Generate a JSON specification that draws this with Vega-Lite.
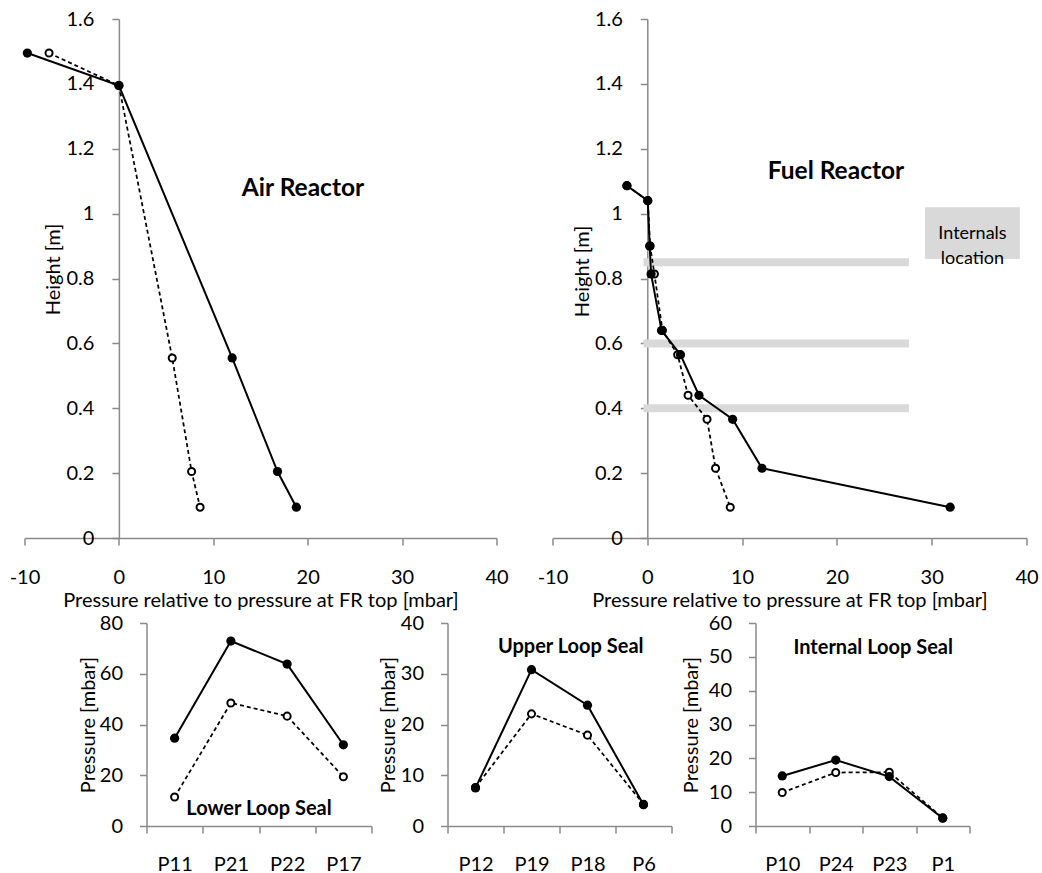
{
  "$schema": "https://vega.github.io/schema/vega-lite/v6.json",
  "padding": {"left": 8.5, "top": 9, "right": 0, "bottom": 0},
  "autosize": {"type": "pad"},
  "width": 1002,
  "height": 807,
  "config": {
    "font": "Lato",
    "view": {"stroke": null},
    "axis": {
      "grid": false,
      "domainColor": "#8a8a8a",
      "tickColor": "#8a8a8a",
      "domainWidth": 1.5,
      "tickWidth": 1.5,
      "tickSize": 7,
      "labelColor": "black",
      "titleColor": "black",
      "labelFont": "Lato",
      "titleFont": "Lato",
      "labelFontSize": 20,
      "titleFontSize": 20,
      "titleFontWeight": "normal",
      "labelFlush": false,
      "labelBound": false,
      "labelOverlap": false
    },
    "text": {"font": "Lato"}
  },
  "datasets": {
    "reactor": [
      {"panel": "Air Reactor", "series": "Case 1", "pressure": -9.7, "height": 1.495},
      {"panel": "Air Reactor", "series": "Case 1", "pressure": 0, "height": 1.395},
      {"panel": "Air Reactor", "series": "Case 1", "pressure": 12.0, "height": 0.555},
      {"panel": "Air Reactor", "series": "Case 1", "pressure": 16.8, "height": 0.205},
      {"panel": "Air Reactor", "series": "Case 1", "pressure": 18.8, "height": 0.095},
      {"panel": "Air Reactor", "series": "Case 2", "pressure": -7.4, "height": 1.495},
      {"panel": "Air Reactor", "series": "Case 2", "pressure": 0, "height": 1.395},
      {"panel": "Air Reactor", "series": "Case 2", "pressure": 5.65, "height": 0.555},
      {"panel": "Air Reactor", "series": "Case 2", "pressure": 7.7, "height": 0.205},
      {"panel": "Air Reactor", "series": "Case 2", "pressure": 8.6, "height": 0.095},
      {"panel": "Fuel Reactor", "series": "Case 1", "pressure": -2.15, "height": 1.086},
      {"panel": "Fuel Reactor", "series": "Case 1", "pressure": 0.05, "height": 1.04},
      {"panel": "Fuel Reactor", "series": "Case 1", "pressure": 0.25, "height": 0.9},
      {"panel": "Fuel Reactor", "series": "Case 1", "pressure": 0.4, "height": 0.814},
      {"panel": "Fuel Reactor", "series": "Case 1", "pressure": 1.5, "height": 0.64},
      {"panel": "Fuel Reactor", "series": "Case 1", "pressure": 3.5, "height": 0.565},
      {"panel": "Fuel Reactor", "series": "Case 1", "pressure": 5.45, "height": 0.44},
      {"panel": "Fuel Reactor", "series": "Case 1", "pressure": 9.0, "height": 0.366},
      {"panel": "Fuel Reactor", "series": "Case 1", "pressure": 12.1, "height": 0.215},
      {"panel": "Fuel Reactor", "series": "Case 1", "pressure": 31.95, "height": 0.095},
      {"panel": "Fuel Reactor", "series": "Case 2", "pressure": -2.15, "height": 1.086},
      {"panel": "Fuel Reactor", "series": "Case 2", "pressure": 0.05, "height": 1.04},
      {"panel": "Fuel Reactor", "series": "Case 2", "pressure": 0.3, "height": 0.9},
      {"panel": "Fuel Reactor", "series": "Case 2", "pressure": 0.75, "height": 0.814},
      {"panel": "Fuel Reactor", "series": "Case 2", "pressure": 1.6, "height": 0.64},
      {"panel": "Fuel Reactor", "series": "Case 2", "pressure": 3.2, "height": 0.565},
      {"panel": "Fuel Reactor", "series": "Case 2", "pressure": 4.3, "height": 0.44},
      {"panel": "Fuel Reactor", "series": "Case 2", "pressure": 6.3, "height": 0.366},
      {"panel": "Fuel Reactor", "series": "Case 2", "pressure": 7.2, "height": 0.215},
      {"panel": "Fuel Reactor", "series": "Case 2", "pressure": 8.75, "height": 0.095}
    ],
    "loopseal": [
      {"panel": "Lower Loop Seal", "series": "Case 1", "probe": "P11", "pressure": 34.6},
      {"panel": "Lower Loop Seal", "series": "Case 1", "probe": "P21", "pressure": 72.9},
      {"panel": "Lower Loop Seal", "series": "Case 1", "probe": "P22", "pressure": 63.8},
      {"panel": "Lower Loop Seal", "series": "Case 1", "probe": "P17", "pressure": 32.0},
      {"panel": "Lower Loop Seal", "series": "Case 2", "probe": "P11", "pressure": 11.4},
      {"panel": "Lower Loop Seal", "series": "Case 2", "probe": "P21", "pressure": 48.5},
      {"panel": "Lower Loop Seal", "series": "Case 2", "probe": "P22", "pressure": 43.3},
      {"panel": "Lower Loop Seal", "series": "Case 2", "probe": "P17", "pressure": 19.4},
      {"panel": "Upper Loop Seal", "series": "Case 1", "probe": "P12", "pressure": 7.5},
      {"panel": "Upper Loop Seal", "series": "Case 1", "probe": "P19", "pressure": 30.8},
      {"panel": "Upper Loop Seal", "series": "Case 1", "probe": "P18", "pressure": 23.8},
      {"panel": "Upper Loop Seal", "series": "Case 1", "probe": "P6", "pressure": 4.2},
      {"panel": "Upper Loop Seal", "series": "Case 2", "probe": "P12", "pressure": 7.6},
      {"panel": "Upper Loop Seal", "series": "Case 2", "probe": "P19", "pressure": 22.1},
      {"panel": "Upper Loop Seal", "series": "Case 2", "probe": "P18", "pressure": 17.9},
      {"panel": "Upper Loop Seal", "series": "Case 2", "probe": "P6", "pressure": 4.3},
      {"panel": "Internal Loop Seal", "series": "Case 1", "probe": "P10", "pressure": 14.8},
      {"panel": "Internal Loop Seal", "series": "Case 1", "probe": "P24", "pressure": 19.5},
      {"panel": "Internal Loop Seal", "series": "Case 1", "probe": "P23", "pressure": 14.6},
      {"panel": "Internal Loop Seal", "series": "Case 1", "probe": "P1", "pressure": 2.3},
      {"panel": "Internal Loop Seal", "series": "Case 2", "probe": "P10", "pressure": 9.9},
      {"panel": "Internal Loop Seal", "series": "Case 2", "probe": "P24", "pressure": 15.8},
      {"panel": "Internal Loop Seal", "series": "Case 2", "probe": "P23", "pressure": 15.9},
      {"panel": "Internal Loop Seal", "series": "Case 2", "probe": "P1", "pressure": 2.4}
    ],
    "reactorTitles": [
      {"panel": "Air Reactor", "label": "Air Reactor", "pressure": 19.5, "height": 1.075},
      {"panel": "Fuel Reactor", "label": "Fuel Reactor", "pressure": 19.9, "height": 1.128}
    ],
    "sealTitles": [
      {"panel": "Lower Loop Seal", "label": "Lower Loop Seal", "probe": "P22", "pressure": 6.7},
      {"panel": "Upper Loop Seal", "label": "Upper Loop Seal", "probe": "P18", "pressure": 35.2},
      {"panel": "Internal Loop Seal", "label": "Internal Loop Seal", "probe": "P23", "pressure": 52.6}
    ],
    "internals": [
      {"pressure": -0.4, "pressure_end": 27.6, "height": 0.85},
      {"pressure": -0.4, "pressure_end": 27.6, "height": 0.6},
      {"pressure": -0.4, "pressure_end": 27.6, "height": 0.4}
    ],
    "internalsKey": [
      {"label": "Internals\nlocation", "pressure": 29.3, "pressure_end": 39.3, "height": 0.86, "height_end": 1.02, "label_pressure": 34.3, "label_height": 0.936}
    ]
  },
  "resolve": {
    "scale": {"x": "independent", "y": "independent"},
    "axis": {"x": "independent", "y": "independent"}
  },
  "layer": [
    {
      "encoding": {
        "x": {"field": "pressure", "type": "quantitative", "scale": {"domain": [-10, 40], "range": [0, 472], "nice": false, "zero": false},
              "axis": {"orient": "bottom", "offset": -288, "values": [-10, 0, 10, 20, 30, 40], "labelExpr": "'' + datum.value", "title": "Pressure relative to pressure at FR top [mbar]", "labelPadding": 22, "titlePadding": 3}},
        "y": {"field": "height", "type": "quantitative", "scale": {"domain": [0, 1.6], "range": [519, 0], "nice": false, "zero": false},
              "axis": {"orient": "left", "offset": -94.4, "values": [0, 0.2, 0.4, 0.6, 0.8, 1, 1.2, 1.4, 1.6], "labelExpr": "'' + datum.value", "title": "Height [m]", "labelPadding": 18, "titlePadding": 2, "titleY": 250}}
      },
      "layer": [
        {"data": {"name": "reactor"}, "transform": [{"filter": "datum.panel === 'Air Reactor' && datum.series === 'Case 2'"}],
         "mark": {"type": "line", "color": "black", "strokeWidth": 1.75, "strokeDash": [4, 3]}, "encoding": {"order": {"value": null}}},
        {"data": {"name": "reactor"}, "transform": [{"filter": "datum.panel === 'Air Reactor' && datum.series === 'Case 2'"}],
         "mark": {"type": "point", "shape": "circle", "filled": false, "fill": "white", "fillOpacity": 1, "stroke": "black", "strokeWidth": 2, "size": 50, "opacity": 1}},
        {"data": {"name": "reactor"}, "transform": [{"filter": "datum.panel === 'Air Reactor' && datum.series === 'Case 1'"}],
         "mark": {"type": "line", "color": "black", "strokeWidth": 2}, "encoding": {"order": {"value": null}}},
        {"data": {"name": "reactor"}, "transform": [{"filter": "datum.panel === 'Air Reactor' && datum.series === 'Case 1'"}],
         "mark": {"type": "circle", "color": "black", "size": 85, "opacity": 1}},
        {"data": {"name": "reactorTitles"}, "transform": [{"filter": "datum.panel === 'Air Reactor'"}],
         "mark": {"type": "text", "fontSize": 24.5, "fontWeight": "bold", "align": "center", "baseline": "middle", "color": "black"},
         "encoding": {"text": {"field": "label"}}}
      ]
    },
    {
      "encoding": {
        "x": {"field": "pressure", "type": "quantitative", "scale": {"domain": [-10, 40], "range": [528, 1002], "nice": false, "zero": false},
              "axis": {"orient": "bottom", "offset": -288, "values": [-10, 0, 10, 20, 30, 40], "labelExpr": "'' + datum.value", "title": "Pressure relative to pressure at FR top [mbar]", "labelPadding": 22, "titlePadding": 3}},
        "y": {"field": "height", "type": "quantitative", "scale": {"domain": [0, 1.6], "range": [519, 0], "nice": false, "zero": false},
              "axis": {"orient": "left", "offset": -622.8, "values": [0, 0.2, 0.4, 0.6, 0.8, 1, 1.2, 1.4, 1.6], "labelExpr": "'' + datum.value", "title": "Height [m]", "labelPadding": 18, "titlePadding": 2, "titleY": 252}}
      },
      "layer": [
        {"data": {"name": "internals"}, "mark": {"type": "rule", "color": "#d9d9d9", "strokeWidth": 8},
         "encoding": {"x2": {"field": "pressure_end"}}},
        {"data": {"name": "internalsKey"}, "mark": {"type": "rect", "color": "#d9d9d9"},
         "encoding": {"x2": {"field": "pressure_end"}, "y2": {"field": "height_end"}}},
        {"data": {"name": "internalsKey"}, "mark": {"type": "text", "fontSize": 18, "align": "center", "baseline": "middle", "lineBreak": "\n", "lineHeight": 25, "color": "black"},
         "encoding": {"x": {"field": "label_pressure", "type": "quantitative"}, "y": {"field": "label_height", "type": "quantitative"}, "text": {"field": "label"}}},
        {"data": {"name": "reactor"}, "transform": [{"filter": "datum.panel === 'Fuel Reactor' && datum.series === 'Case 2'"}],
         "mark": {"type": "line", "color": "black", "strokeWidth": 1.75, "strokeDash": [4, 3]}, "encoding": {"order": {"value": null}}},
        {"data": {"name": "reactor"}, "transform": [{"filter": "datum.panel === 'Fuel Reactor' && datum.series === 'Case 2'"}],
         "mark": {"type": "point", "shape": "circle", "filled": false, "fill": "white", "fillOpacity": 1, "stroke": "black", "strokeWidth": 2, "size": 50, "opacity": 1}},
        {"data": {"name": "reactor"}, "transform": [{"filter": "datum.panel === 'Fuel Reactor' && datum.series === 'Case 1'"}],
         "mark": {"type": "line", "color": "black", "strokeWidth": 2}, "encoding": {"order": {"value": null}}},
        {"data": {"name": "reactor"}, "transform": [{"filter": "datum.panel === 'Fuel Reactor' && datum.series === 'Case 1'"}],
         "mark": {"type": "circle", "color": "black", "size": 85, "opacity": 1}},
        {"data": {"name": "reactorTitles"}, "transform": [{"filter": "datum.panel === 'Fuel Reactor'"}],
         "mark": {"type": "text", "fontSize": 24.5, "fontWeight": "bold", "align": "center", "baseline": "middle", "color": "black"},
         "encoding": {"text": {"field": "label"}}}
      ]
    },
    {
      "encoding": {
        "x": {"field": "probe", "type": "nominal", "sort": null,
              "scale": {"type": "band", "domain": ["P11", "P21", "P22", "P17"], "range": [122, 347], "paddingInner": 0, "paddingOuter": 0},
              "axis": {"orient": "bottom", "offset": 0, "title": null, "labelAngle": 0, "tickBand": "extent", "labelPadding": 21}},
        "y": {"field": "pressure", "type": "quantitative", "scale": {"domain": [0, 80], "range": [807, 604], "nice": false, "zero": false},
              "axis": {"orient": "left", "offset": -122, "values": [0, 20, 40, 60, 80], "title": "Pressure [mbar]", "labelPadding": 17, "titlePadding": 1}}
      },
      "layer": [
        {"data": {"name": "loopseal"}, "transform": [{"filter": "datum.panel === 'Lower Loop Seal' && datum.series === 'Case 2'"}],
         "mark": {"type": "line", "color": "black", "strokeWidth": 1.75, "strokeDash": [4, 3]}},
        {"data": {"name": "loopseal"}, "transform": [{"filter": "datum.panel === 'Lower Loop Seal' && datum.series === 'Case 2'"}],
         "mark": {"type": "point", "shape": "circle", "filled": false, "fill": "white", "fillOpacity": 1, "stroke": "black", "strokeWidth": 2, "size": 50, "opacity": 1}},
        {"data": {"name": "loopseal"}, "transform": [{"filter": "datum.panel === 'Lower Loop Seal' && datum.series === 'Case 1'"}],
         "mark": {"type": "line", "color": "black", "strokeWidth": 2}},
        {"data": {"name": "loopseal"}, "transform": [{"filter": "datum.panel === 'Lower Loop Seal' && datum.series === 'Case 1'"}],
         "mark": {"type": "circle", "color": "black", "size": 85, "opacity": 1}},
        {"data": {"name": "sealTitles"}, "transform": [{"filter": "datum.panel === 'Lower Loop Seal'"}],
         "mark": {"type": "text", "fontSize": 20, "fontWeight": "bold", "align": "center", "baseline": "middle", "color": "black"},
         "encoding": {"x": {"field": "probe", "type": "nominal", "bandPosition": 0}, "text": {"field": "label"}}}
      ]
    },
    {
      "encoding": {
        "x": {"field": "probe", "type": "nominal", "sort": null,
              "scale": {"type": "band", "domain": ["P12", "P19", "P18", "P6"], "range": [423, 647], "paddingInner": 0, "paddingOuter": 0},
              "axis": {"orient": "bottom", "offset": 0, "title": null, "labelAngle": 0, "tickBand": "extent", "labelPadding": 21}},
        "y": {"field": "pressure", "type": "quantitative", "scale": {"domain": [0, 40], "range": [807, 604], "nice": false, "zero": false},
              "axis": {"orient": "left", "offset": -423, "values": [0, 10, 20, 30, 40], "title": "Pressure [mbar]", "labelPadding": 17, "titlePadding": 2}}
      },
      "layer": [
        {"data": {"name": "loopseal"}, "transform": [{"filter": "datum.panel === 'Upper Loop Seal' && datum.series === 'Case 2'"}],
         "mark": {"type": "line", "color": "black", "strokeWidth": 1.75, "strokeDash": [4, 3]}},
        {"data": {"name": "loopseal"}, "transform": [{"filter": "datum.panel === 'Upper Loop Seal' && datum.series === 'Case 2'"}],
         "mark": {"type": "point", "shape": "circle", "filled": false, "fill": "white", "fillOpacity": 1, "stroke": "black", "strokeWidth": 2, "size": 50, "opacity": 1}},
        {"data": {"name": "loopseal"}, "transform": [{"filter": "datum.panel === 'Upper Loop Seal' && datum.series === 'Case 1'"}],
         "mark": {"type": "line", "color": "black", "strokeWidth": 2}},
        {"data": {"name": "loopseal"}, "transform": [{"filter": "datum.panel === 'Upper Loop Seal' && datum.series === 'Case 1'"}],
         "mark": {"type": "circle", "color": "black", "size": 85, "opacity": 1}},
        {"data": {"name": "sealTitles"}, "transform": [{"filter": "datum.panel === 'Upper Loop Seal'"}],
         "mark": {"type": "text", "fontSize": 20, "fontWeight": "bold", "align": "center", "baseline": "middle", "color": "black"},
         "encoding": {"x": {"field": "probe", "type": "nominal", "bandPosition": 0.2}, "text": {"field": "label"}}}
      ]
    },
    {
      "encoding": {
        "x": {"field": "probe", "type": "nominal", "sort": null,
              "scale": {"type": "band", "domain": ["P10", "P24", "P23", "P1"], "range": [731, 945], "paddingInner": 0, "paddingOuter": 0},
              "axis": {"orient": "bottom", "offset": 0, "title": null, "labelAngle": 0, "tickBand": "extent", "labelPadding": 21}},
        "y": {"field": "pressure", "type": "quantitative", "scale": {"domain": [0, 60], "range": [807, 604], "nice": false, "zero": false},
              "axis": {"orient": "left", "offset": -731, "values": [0, 10, 20, 30, 40, 50, 60], "title": "Pressure [mbar]", "labelPadding": 17, "titlePadding": 7}}
      },
      "layer": [
        {"data": {"name": "loopseal"}, "transform": [{"filter": "datum.panel === 'Internal Loop Seal' && datum.series === 'Case 2'"}],
         "mark": {"type": "line", "color": "black", "strokeWidth": 1.75, "strokeDash": [4, 3]}},
        {"data": {"name": "loopseal"}, "transform": [{"filter": "datum.panel === 'Internal Loop Seal' && datum.series === 'Case 2'"}],
         "mark": {"type": "point", "shape": "circle", "filled": false, "fill": "white", "fillOpacity": 1, "stroke": "black", "strokeWidth": 2, "size": 50, "opacity": 1}},
        {"data": {"name": "loopseal"}, "transform": [{"filter": "datum.panel === 'Internal Loop Seal' && datum.series === 'Case 1'"}],
         "mark": {"type": "line", "color": "black", "strokeWidth": 2}},
        {"data": {"name": "loopseal"}, "transform": [{"filter": "datum.panel === 'Internal Loop Seal' && datum.series === 'Case 1'"}],
         "mark": {"type": "circle", "color": "black", "size": 85, "opacity": 1}},
        {"data": {"name": "sealTitles"}, "transform": [{"filter": "datum.panel === 'Internal Loop Seal'"}],
         "mark": {"type": "text", "fontSize": 20, "fontWeight": "bold", "align": "center", "baseline": "middle", "color": "black"},
         "encoding": {"x": {"field": "probe", "type": "nominal", "bandPosition": 0.2}, "text": {"field": "label"}}}
      ]
    }
  ]
}
